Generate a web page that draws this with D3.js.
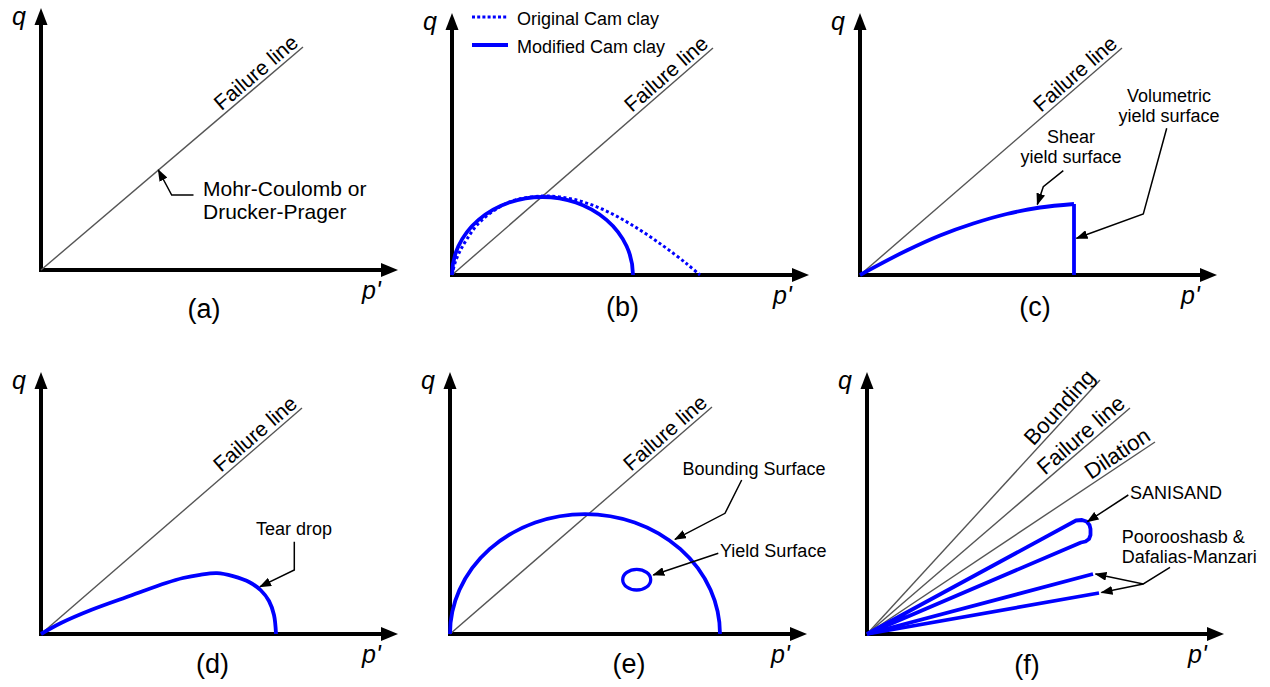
<!DOCTYPE html>
<html><head><meta charset="utf-8">
<script src="https://cdn.jsdelivr.net/npm/d3@7"></script>
<style>
html,body{margin:0;padding:0;background:#fff;}
svg{display:block;font-family:"Liberation Sans",Arial,Helvetica,sans-serif;}
</style></head><body>
<svg id="chart" width="1270" height="687"></svg>
<script>
// ---------------- DATA (conceptual units: p' along x, q along y) ----------------
const panelLabels = ["(a)", "(b)", "(c)", "(d)", "(e)", "(f)"];
const axisNames = ["q", "p'"];
const P_MAX = 357, Q_MAX = 262;               // axis extents (arrow tips)
// failure line end points [p, q] for each panel (f handled separately)
const failureEnds = [[262, 223], [261, 227], [262, 227], [261, 226], [262, 227]];
const failureName = "Failure line";
// panel (f): stress-ratio lines
const fLineNames = ["Bounding", "Failure line", "Dilation"];
const fLineEnds = [[233, 254], [263, 226], [288, 192]];
// panel (b): legend + yield surfaces
const legendNames = ["Original Cam clay", "Modified Cam clay"];
const occP = [0, 3, 8, 15, 25, 40, 60, 91, 120, 150, 180, 210, 235, 248];
const occQ = [0, 12, 24, 36, 50, 63, 74, 79, 76, 66, 50, 30, 11, 0];
const mccEllipse = [90.5, 0, 90.5, 78];        // centre p, centre q, radius p, radius q
// panel (c): shear yield surface + volumetric cap
const shearP = [0, 46.7, 80, 113.3, 146.7, 180, 214];
const shearQ = [0, 24.5, 39.5, 51.5, 61, 67.5, 71];
const capP = 214;
// panel (d): tear drop
const tearP = [0, 20, 50, 90, 125, 142, 159, 176, 192, 209, 220, 228, 233, 235];
const tearQ = [0, 11, 24, 38.5, 51, 56, 59.2, 60.8, 57.8, 51.5, 43.5, 33, 19, 0];
// panel (e): bounding surface and yield surface
const boundingEllipse = [135, 0, 135, 120];
const yieldEllipse = [186.7, 54.3, 14, 10.3];
// panel (f): SANISAND wedge and two cone lines
const sanisandP = [0, 209, 215, 219.5, 222.5, 223.5, 223.5, 222, 218.5, 214, 0];
const sanisandQ = [0, 113.5, 114, 112.5, 109, 105, 99, 95, 92.5, 91.5, 0];
const pdEnds = [[226, 60], [232, 41]];
// annotations: text lines, text anchor point [p,q], leader polyline [p,q] ending at arrow tip
const annotations = [
  {panel: 0, lines: ["Mohr-Coulomb or", "Drucker-Prager"], at: [162, 74], lead: [[[152.5, 75], [130.7, 75], [117.3, 100]]]},
  {panel: 2, lines: ["Shear", "yield surface"], at: [211, 132.3], lead: [[[203.3, 104.3], [183.3, 88.3], [177.3, 70.5]]]},
  {panel: 2, lines: ["Volumetric", "yield surface"], at: [309, 173.3], lead: [[[306.7, 146.7], [283.3, 61], [216.5, 36.7]]]},
  {panel: 3, lines: ["Tear drop"], at: [253, 99], lead: [[[253.3, 92.3], [253.3, 64], [219, 47.3]]]},
  {panel: 4, lines: ["Bounding Surface"], at: [304, 159], lead: [[[291.7, 154], [275, 120.7], [225, 94.7]]]},
  {panel: 4, lines: ["Yield Surface"], at: [270, 77.3], lead: [[[268.3, 80.7], [203.3, 59]]]},
  {panel: 5, lines: ["SANISAND"], at: [263, 135], lead: [[[261.3, 139], [220.5, 112.3]]]},
  {panel: 5, lines: ["Poorooshasb &", "Dafalias-Manzari"], at: [254.7, 91.3],
   lead: [[[303, 66.7], [276.3, 50], [228.5, 60]], [[276.3, 50], [234.5, 41.5]]]}
];

// ---------------- LAYOUT ----------------
const origins = [[41, 270], [452, 275], [860, 275], [41, 634], [450, 634], [867, 634]];
const labelPos = [[204, 318], [622.5, 316], [1035, 316], [212.5, 673], [629, 673], [1027, 674]];
const annoAnchor = ["start", "middle", "middle", "middle", "middle", "start", "start", "start"];
const annoSize = [21, 18, 18, 18, 18, 18, 18, 18];
const BLUE = "#0000ff", GRAY = "#555555", CURVE_W = 3.8;

const svg = d3.select("#chart");
const defs = svg.append("defs");
defs.append("marker").attr("id", "ah").attr("viewBox", "0 0 12 9")
  .attr("refX", 11).attr("refY", 4.5).attr("markerWidth", 12).attr("markerHeight", 9)
  .attr("markerUnits", "userSpaceOnUse").attr("orient", "auto").attr("preserveAspectRatio", "none")
  .append("path").attr("d", "M0,0L12,4.5L0,9Z").attr("fill", "#000");

const scales = origins.map(([ox, oy]) => ({
  x: d3.scaleLinear().domain([0, P_MAX]).range([ox, ox + P_MAX]),
  y: d3.scaleLinear().domain([0, Q_MAX]).range([oy, oy - Q_MAX])
}));

function lineGen(s, curve) {
  return d3.line().x(d => s.x(d[0])).y(d => s.y(d[1])).curve(curve || d3.curveLinear);
}
const zip = (a, b) => a.map((v, i) => [v, b[i]]);

function rotatedLabel(g, s, end, text, size) {
  const px = s.x(end[0]) - s.x(0), py = s.y(0) - s.y(end[1]);
  const ang = Math.atan2(py, px) * 180 / Math.PI;
  g.append("text").attr("transform", `translate(${s.x(end[0])},${s.y(end[1])}) rotate(${-ang})`)
    .attr("x", -1).attr("y", -4).attr("text-anchor", "end").attr("font-size", size).attr("fill", "#000")
    .text(text);
}

// ---------------- PANELS: axes, labels ----------------
scales.forEach((s, i) => {
  const g = svg.append("g").attr("class", "panel");
  g.append("line").attr("x1", s.x(0)).attr("y1", s.y(0) + 2).attr("x2", s.x(0)).attr("y2", s.y(Q_MAX) + 12)
    .attr("stroke", "#000").attr("stroke-width", 4);
  g.append("line").attr("x1", s.x(0) - 2).attr("y1", s.y(0)).attr("x2", s.x(P_MAX) - 12).attr("y2", s.y(0))
    .attr("stroke", "#000").attr("stroke-width", 4);
  g.append("path").attr("d", `M${s.x(0)},${s.y(Q_MAX)}L${s.x(0) - 6.5},${s.y(Q_MAX) + 17}L${s.x(0) + 6.5},${s.y(Q_MAX) + 17}Z`).attr("fill", "#000");
  g.append("path").attr("d", `M${s.x(P_MAX)},${s.y(0)}L${s.x(P_MAX) - 17},${s.y(0) - 7}L${s.x(P_MAX) - 17},${s.y(0) + 7}Z`).attr("fill", "#000");
  g.append("text").attr("x", s.x(0) - 29).attr("y", s.y(0) - 245).attr("font-size", 25).attr("font-style", "italic").text(axisNames[0]);
  g.append("text").attr("x", s.x(0) + 321).attr("y", s.y(0) + 29).attr("font-size", 25).attr("font-style", "italic").text(axisNames[1]);
  g.append("text").attr("x", labelPos[i][0]).attr("y", labelPos[i][1]).attr("text-anchor", "middle").attr("font-size", 27).text(panelLabels[i]);
  if (i < 5) {
    g.append("path").attr("d", lineGen(s)([[0, 0], failureEnds[i]])).attr("stroke", GRAY).attr("stroke-width", 1.4).attr("fill", "none");
    rotatedLabel(g, s, failureEnds[i], failureName, 21);
  }
});

// ---------------- (b) Cam clay ----------------
{
  const s = scales[1];
  const g = svg.append("g");
  g.append("path").attr("d", lineGen(s, d3.curveCatmullRom.alpha(0.5))(zip(occP, occQ)))
    .attr("fill", "none").attr("stroke", BLUE).attr("stroke-width", 3).attr("stroke-dasharray", "3,2.6");
  const [c, , rp, rq] = mccEllipse;
  const rx = s.x(c + rp) - s.x(c), ry = s.y(0) - s.y(rq);
  g.append("path").attr("d", `M${s.x(c - rp)},${s.y(0)}A${rx},${ry} 0 0 1 ${s.x(c + rp)},${s.y(0)}`)
    .attr("fill", "none").attr("stroke", BLUE).attr("stroke-width", CURVE_W);
  const lg = g.append("g");
  legendNames.forEach((name, k) => {
    const y = 17 + k * 28;
    lg.append("line").attr("x1", 472).attr("x2", 508).attr("y1", y).attr("y2", y)
      .attr("stroke", BLUE).attr("stroke-width", k === 0 ? 3 : CURVE_W).attr("stroke-dasharray", k === 0 ? "3,2.2" : null);
    lg.append("text").attr("x", 517).attr("y", y + 8).attr("font-size", 18).text(name);
  });
}

// ---------------- (c) shear + volumetric ----------------
{
  const s = scales[2];
  svg.append("path").attr("d", lineGen(s)([[capP, shearQ[shearQ.length - 1]], [capP, 0]]))
    .attr("fill", "none").attr("stroke", BLUE).attr("stroke-width", CURVE_W);
  svg.append("path").attr("d", lineGen(s, d3.curveMonotoneX)(zip(shearP, shearQ)))
    .attr("fill", "none").attr("stroke", BLUE).attr("stroke-width", CURVE_W);
}

// ---------------- (d) tear drop ----------------
{
  const s = scales[3];
  svg.append("path").attr("d", lineGen(s, d3.curveCatmullRom.alpha(0.5))(zip(tearP, tearQ)))
    .attr("fill", "none").attr("stroke", BLUE).attr("stroke-width", CURVE_W);
}

// ---------------- (e) bounding + yield surface ----------------
{
  const s = scales[4];
  const [c, , rp, rq] = boundingEllipse;
  const rx = s.x(c + rp) - s.x(c), ry = s.y(0) - s.y(rq);
  svg.append("path").attr("d", `M${s.x(c - rp)},${s.y(0)}A${rx},${ry} 0 0 1 ${s.x(c + rp)},${s.y(0)}`)
    .attr("fill", "none").attr("stroke", BLUE).attr("stroke-width", CURVE_W);
  const [yc, yq, yrp, yrq] = yieldEllipse;
  svg.append("ellipse").attr("cx", s.x(yc)).attr("cy", s.y(yq))
    .attr("rx", s.x(yc + yrp) - s.x(yc)).attr("ry", s.y(yq) - s.y(yq + yrq))
    .attr("fill", "none").attr("stroke", BLUE).attr("stroke-width", 3.3);
}

// ---------------- (f) multiple lines ----------------
{
  const s = scales[5];
  const g = svg.append("g");
  fLineEnds.forEach((e, k) => {
    g.append("path").attr("d", lineGen(s)([[0, 0], e])).attr("stroke", GRAY).attr("stroke-width", 1.4).attr("fill", "none");
    rotatedLabel(g, s, e, fLineNames[k], 22);
  });
  g.append("path").attr("d", lineGen(s)(zip(sanisandP, sanisandQ)))
    .attr("fill", "none").attr("stroke", BLUE).attr("stroke-width", CURVE_W).attr("stroke-linejoin", "round");
  pdEnds.forEach(e => {
    g.append("path").attr("d", lineGen(s)([[0, 0], e])).attr("fill", "none").attr("stroke", BLUE).attr("stroke-width", CURVE_W);
  });
}

// ---------------- annotations ----------------
annotations.forEach((a, k) => {
  const s = scales[a.panel];
  const g = svg.append("g");
  const t = g.append("text").attr("font-size", annoSize[k]).attr("text-anchor", annoAnchor[k]).attr("fill", "#000");
  a.lines.forEach((ln, j) => {
    t.append("tspan").attr("x", s.x(a.at[0])).attr("y", s.y(a.at[1]) + j * (annoSize[k] + 2)).text(ln);
  });
  a.lead.forEach(poly => {
    g.append("path").attr("d", lineGen(s)(poly)).attr("fill", "none").attr("stroke", "#000")
      .attr("stroke-width", 1.5).attr("marker-end", "url(#ah)");
  });
});
</script></body></html>
